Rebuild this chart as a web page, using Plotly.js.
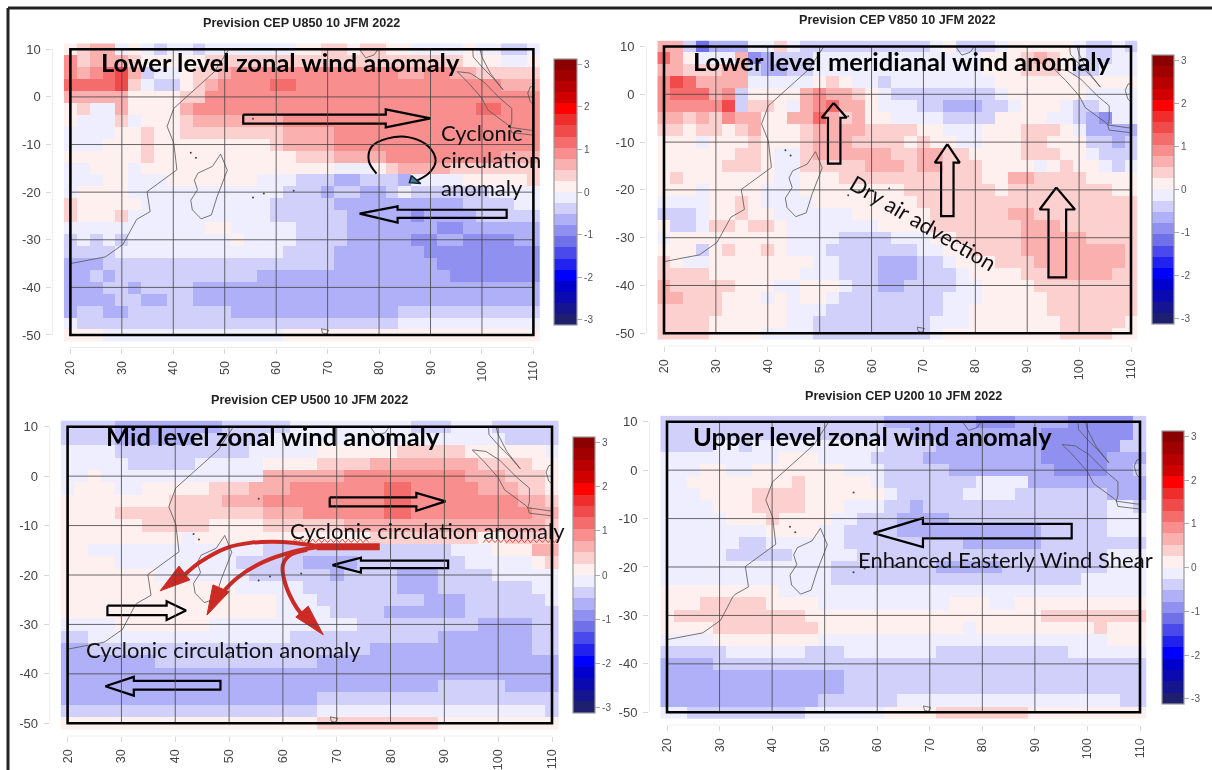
<!DOCTYPE html>
<html><head><meta charset="utf-8">
<script src="https://cdn.plot.ly/plotly-3.0.1.min.js"></script>
<style>html,body{margin:0;padding:0;background:#fff;overflow:hidden}#plot{width:1212px;height:770px;filter:blur(0.45px)}</style>
</head><body><div id="plot"></div>
<script>
// Anomaly level per letter: digits are positive bands, letters negative bands (each band 0.26 m/s wide)
const levelCodes = {'0':-.13,'1':.13,'2':.39,'3':.65,'4':.91,'5':1.17,'6':1.43,a:-.13,b:-.39,c:-.65,d:-.91,e:-1.17,f:-1.43};
const bandColors = ['#1f1f70','#151590','#0a0ab0','#0000cc','#0000ff','#2222ee','#4a4aec','#7070e8','#9090f0','#b0b0f8','#d0d0fb','#eeeeff',
  '#fff0f0','#fdd0d0','#fbb0b0','#f88e8e','#f56c6c','#f04a4a','#ef2d2d','#ff0000','#d00000','#b80000','#a00000','#8b0000'];
const lonTicks = [20,30,40,50,60,70,80,90,100,110];
const latTicks = [10,0,-10,-20,-30,-40,-50];
const barTicks = [-3,-2,-1,0,1,2,3];
// rows: lat 10 to -50 (step 2.5), columns: lon 20 to 110 (step 2.5)
const u850 = [
"1233a1abaa baaaaaaa11 2212211aaa a1aabba",
"4233321111 1222222222 2222222222 2111aa1",
"434563baa1 2234444444 4444443344 3322222",
"5555620bb1 2344445544 4444444444 4444333",
"3333311112 2444444444 4444444444 4444444",
"12aa311113 4444444444 4444444444 4455444",
"1aaa2a1112 3333333444 4444444444 4444444",
"aaaa112112 2222222333 3444444444 4444444",
"aaa1112111 1111112333 3444444444 4444444",
"1111112111 1111111122 2333344444 4444333",
"aa111a1111 1111111111 1aaa123333 2222222",
"aaa11aaa11 11111aaabb bccbbbcaaa a111112",
"a1111aaaaa aaaaaaabbb cbbccb0bbb bbbaaaa",
"211111aaaa aaaaaabbbb bccccccccc cbbbbaa",
"21112aaaaa aaaaaabbbb bbcccccdcc ccbbbbb",
"aaaaaaaaaa a11aaaaabb bbcccccccd dcccccc",
"bababaaaaa aaa1aaaabb bbcccccddc cddddcc",
"bbbbaaaaaa aaaaaaabbb bcccccccdd ddddddd",
"cccbbbbbbb bbbbbbbbbb bccccccccd ddddddd",
"ccbcbbbbbb bbbbbccccc cccccccccc ddddddd",
"cccbbcbbbb cccccccccc cccccccccc ccccccc",
"ccccbbccbb cccccccccc cccccccccc ccccccc",
"cbbccbbbbb bbbccccccc ccccccbbbb bbbbbbb",
"abbbbbbbbb bbbbbbbbbb bbbbbbaaaa aaaaaaa",
"111aaaaaaa aaaaaaa111 1111111111 1111111"];
const v850 = [
"33becccaa2 abbbbbbbbb ba1bbba111 11abbab",
"531aaa3dcb bbaaaaaaaa aaaaa11123 21abbaa",
"3322233bcc bbaaaaaaaa aaaaa11122 21bbaaa",
"4653333aaa aa121aabaa aaaaaa1111 1111111",
"455534b111 1343321abb bbbbbba111 111aaaa",
"444446b221 a345331aaa bbcccbba11 1abbaaa",
"3323243311 33532311aa aabbbb1111 aabcdaa",
"2212212311 1233332222 11aaa11122 21acccc",
"111a111211 1233322221 211aa11122 111bbcb",
"1111112 21a a233333322 3322111122 211abbb",
"111112221a a222223332 332221111a 1211aba",
"121111111a a111222222 2222211332 2221111",
"111a1111aa a111111112 2222221222 2222211",
"aaaa1121aa aa11111111 2222222222 2222222",
"bbba11211a aaaaa11111 1222222332 2222222",
"1bba221221 aaaaaaa111 1222222233 3222222",
"a111111111 aaaabbbbaa a112222233 3332222",
"111b121121 aaabbbbbbb aa11222233 3333332",
"21aa111111 11aabbbccc bba1112223 3333332",
"2222111111 1aaabbbccc bbba111122 3333322",
"322222111a a111abbccb bbbaa11112 2222222",
"33222111a1 a11abbbbbb bbaaa11111 2222222",
"2222211111 aaabbbbbbb bbaa111111 2222222",
"2222111111 aabbbbbbbb baaa111111 1222221",
"22221111aa aabbbbbbbb ba11111111 1222211"];
const u500 = [
"bbbbcccccc ccbbbbbaaa aaaaaabbba aabbbbb",
"bbbbcccccc bbbbbaaaaa aaaaaaaaaa aaabbbb",
"aaaabbbbbb bbbbaaaaa1 1111122222 111111a",
"aaaaabbbbb aaaaa11112 2223333333 3222211",
"aa1aaaaaaa aaaaa33333 3444444444 3332221",
"a111aa1111 1222333444 4444554444 4333221",
"1111111122 2233344444 4444554444 4444332",
"1111222222 2222233344 4444554444 4444433",
"1111112222 2111122222 2333333333 3333332",
"111111111a 1111111111 1112222222 2112222",
"11aaaaaaaa aaaaabbbbb bbbbbbbbba aa11133",
"1111aaaaaa aaabbbbbcc ccbbbbbbbb aaaaa12",
"1111111aaa aaaabbbbbb cbbbbcccbb bbaaaaa",
"1111111111 111aaaaabb bbbbbcccbb bbbbbaa",
"1111111111 111111aaab bbbbbbbccc bbbbbba",
"1111111111 111111aaaa bbbbcccccc bbbbbbb",
"aaaa111111 1aaaaaaaaa aabbbbbbbb bccccbb",
"bbaaaaaaaa aaaaaaabbb bbbbbbbbcc cccccbb",
"ccbbbbbbbb bbbbbbbbbb bbbccccccc cccccbb",
"cccccccbbb bbbbbbbbbc cccccccccc ccccccc",
"cccccccccc cccccccccc cccccccccc ccccccc",
"cccccccccc cccccccccc ccccccccbb bbbcccc",
"cccccccccc cccccccccb bbbbbbbbbb bbbbbbb",
"bbbbbbbbbb bbbbbbbbba aaaaaaaaaa aaaaaab",
"1111111111 1111111112 2222222211 1111111"];
const u200 = [
"bbbbbbbbbb bbbbbbbccc ccccdddccc cdddddb",
"bbbbbbbbbb bbbbbbbbbc cccccccccd ddddddb",
"bbbbaabaaa aaaaaaabbb bccccccccd dddddbb",
"aaaaaaaaa1 11aaaabbbb cccccccccd ddddccc",
"aaa11aa111 1111aaabbb bbcccccccc ddddccb",
"aa11111111 211111abbb bbbbaaaacc ccccccc",
"aaa1111222 2111111abb bbb0000bbb bbbbccc",
"aaaa111222 2111aaabbc bbbbbbbbbb bbbbaab",
"aaaaa11121 111aabbbcc ccbbbbbbbb bbbbaaa",
"aaaaaaaa11 11aabbbbcc cccccccccb bbbbaaa",
"aaaaaabbaa aaaabbbbbb bbbccccccb bbbbbbb",
"aaaaabbbbb aaaaabbbbb bbbbbbbbbb bbbbaaa",
"aaaaaaaaaa aaabbbbbbb bcccccbbbb bbbbaaa",
"aaaaaaaaaa aaabbbbbbb bbbbbbbbbb bbaaaaa",
"111111111a aaaaaaaaaa aaaaaaaaaa aaaaaaa",
"1112222211 11aaaaaaaa aa111aa111 1111111",
"1222222222 2111111111 1111111112 2222222",
"1111222222 2211111111 111a111111 1112111",
"aaaa111111 11aaaaaaaa aaaaaaaaaa aaaa111",
"bbbbbaaaaa abbbaaaaaa abbbbbbbbb baaaaaa",
"ccccbbbbbb bbbbbbbbbb bbbbbbbbbb bbbbbbb",
"cccccccccc ccccbbbbbb bbbbbbbbbb bbbbbbb",
"cccccccccc ccccbbbbbb bbbbbbbbbb bbbbbbb",
"cccccccccc ccbbbbbbaa aaaaaaaaaa aaaaabb",
"aabbbbbbbb baaaaaa111 1222222211 1111111"];

// coastlines, as [lon, lat] lists
const africaLon = [20,26.8,30.2,32.5,32.9,35.5,34.9,40.7,40.1,38.8,40.1,48,50.8];
const africaLat = [-35,-33.6,-31,-26.2,-25.7,-24.1,-19.9,-15.3,-9.7,-6.2,-2.4,5.3,10];
const madaLon = [49.2,50.5,48.5,47.4,45.4,43.7,43.4,44.7,44.1,44.8,47.6,49.2];
const madaLat = [-12,-15.4,-21,-24.8,-25.6,-23.7,-21.7,-19.5,-17.5,-16,-14.6,-12];
const sumatraLon = [95.2,97.7,100.3,103.5,105.8,105.8,105.5,105.1,101.2,100,97.4,95.2];
const sumatraLat = [5.3,5,3.2,-.3,-2.4,-5.2,-6.4,-5.9,-2.8,-.3,2.9,5.3];
const javaLon = [110,109.4,105.5,105.8,109.7,110];
const javaLat = [-7,-7,-6.4,-7.5,-8,-8];
const malayaLon = [98.2,98.3,100,102.2,104.1,101.6,100,99.7,99.6];
const malayaLat = [10,8.4,6.3,3.9,1.5,5,8.4,9.5,10];
const borneoLon = [110,109.4,108.9,109.4,110];
const borneoLat = [2.3,2.1,.8,-1,-1.6];
const indiaLon = [76.2,77.4,79,79.8];
const indiaLat = [10,8.2,8.8,10];
const kerguelenLon = [68.8,70.2,69.7,69,68.8];
const kerguelenLat = [-48.7,-49,-49.8,-49.6,-48.7];
const isleLon = [43.4,44.4,55.5,57.6,63.4,55.5];
const isleLat = [-11.7,-12.8,-21.1,-20.3,-19.7,-4.6];

// overlay drawings, as [lon list, lat list]
const arrowsA = [
 [[53.6,81.3,81.3,90,81.3,81.3,53.6,53.6],[-3.7,-3.7,-2.6,-4.5,-6.4,-5.6,-5.6,-3.7]],
 [[76.2,83.6,83.6,104.8,104.8,83.6,83.6,76.2],[-24.5,-23,-23.7,-23.7,-25.4,-25.4,-26.4,-24.5]]];
const swirlLon = [79.5,78,78.6,81.7,85.9,89.6,91,89.8,86.9];
const swirlLat = [-16.1,-13.4,-10.4,-8.7,-8.5,-10.4,-13.4,-15.9,-17.8];
const swirlHeadLon = [86.3,88.1,85.9,86.3];
const swirlHeadLat = [-16.5,-18.2,-18,-16.5];
const arrowsB = [
 [[52.7,55.2,54,54,51.6,51.6,50.4,52.7],[-1.8,-4.9,-4.9,-14.5,-14.5,-4.9,-4.9,-1.8]],
 [[74.6,77,75.8,75.8,73.4,73.4,72.2,74.6],[-10.4,-14.3,-14.3,-25.5,-25.5,-14.3,-14.3,-10.4]],
 [[95.6,99.2,97.5,97.5,94.1,94.1,92.4,95.6],[-19.5,-24.1,-24.1,-38.3,-38.3,-24.1,-24.1,-19.5]]];
const arrowsC = [
 [[68.7,84.8,84.8,90.2,84.8,84.8,68.7,68.7],[-4.3,-4.3,-3.4,-5.1,-7,-6.1,-6.1,-4.3]],
 [[69.2,74.5,74.5,90.7,90.7,74.5,74.5,69.2],[-18,-16.5,-17.1,-17.1,-18.6,-18.6,-19.5,-18]],
 [[27.4,38.4,38.4,42,38.4,38.4,27.4,27.4],[-26.2,-26.2,-25.3,-27.2,-29.1,-28.1,-28.1,-26.2]],
 [[27,32.3,32.3,48.4,48.4,32.3,32.3,27],[-42.5,-40.6,-41.4,-41.4,-43.2,-43.2,-44.4,-42.5]]];
const arrowsD = [
 [[59.3,68.7,68.7,97,97,68.7,68.7,59.3],[-13,-9.9,-11.1,-11.1,-14.1,-14.1,-15.9,-13]]];
const redStemLon = [78,72,66.3], redStemLat = [-14.3,-14.3,-14.3];
const redCurves = [
 [[66.3,60,53.9,49.6,44.6,41.7],[-14.1,-13.3,-13.5,-14.5,-17.4,-20]],
 [[66.9,61.9,56.3,51.5,48.4],[-14.3,-15.3,-17.4,-20.6,-24]],
 [[64.5,61.3,60,60.4,62.6,64],[-14.9,-16,-18,-21.6,-26.7,-28.5]]];
const redHeads = [
 [[37.2,42.7,40.7,37.2],[-23.2,-21,-18.2,-23.2]],
 [[45.9,50,47,45.9],[-28.1,-23.4,-22,-28.1]],
 [[67.5,64.7,62.4,67.5],[-32.1,-26.3,-28.5,-32.1]]];

const W=1212,H=770;
const panels = [
 {z:u850,title:'Prevision CEP U850 10 JFM 2022',x20:70.4,x110:533.4,y10:49.3,y50:335,tx:301,ty:23,bar:[554,59,23,266],arrows:arrowsA},
 {z:v850,title:'Prevision CEP V850 10 JFM 2022',x20:664,x110:1131,y10:46.5,y50:333.3,tx:897,ty:20,bar:[1152,55,22,269],arrows:arrowsB},
 {z:u500,title:'Prevision CEP U500 10 JFM 2022',x20:67.6,x110:552,y10:426.7,y50:723.3,tx:309,ty:400,bar:[573,437,22,276],arrows:arrowsC},
 {z:u200,title:'Prevision CEP U200 10 JFM 2022',x20:667,x110:1140,y10:421.7,y50:712.3,tx:903,ty:396,bar:[1162,431,22,273],arrows:arrowsD}];

const scale = bandColors.flatMap((c,i)=>[[i/24,c],[(i+1)/24,c]]);
const decode = rows => rows.map(r=>r.replace(/ /g,'').split('').map(ch=>levelCodes[ch]));
const traces=[], shapes=[], annotations=[], layout={};
const ann=(text,x,y,o={})=>annotations.push(Object.assign({text,x:x/W,y:1-y/H,xref:'paper',yref:'paper',showarrow:false,
   font:{family:'Lato, sans-serif',size:22,color:'#111'},xanchor:'center',yanchor:'middle'},o));

panels.forEach((p,i)=>{
  const n=i?String(i+1):'', xa='x'+n, ya='y'+n;
  const sx=(p.x110-p.x20)/90, sy=(p.y50-p.y10)/60;
  const l=p.x20-18, r=p.x110+sx*1.25, t=p.y10-sy*1.25, b=p.y50+13;
  layout['xaxis'+n]={domain:[l/W,r/W],anchor:ya,range:[20+(l-p.x20)/sx,20+(r-p.x20)/sx],
    tickmode:'array',tickvals:lonTicks,ticktext:lonTicks.map(String),tickangle:-90,ticks:'outside',ticklen:5,tickcolor:'#d8d8d8',
    showgrid:false,zeroline:false,showline:false,tickfont:{family:'Liberation Sans',size:12.5,color:'#444'},ticklabelstandoff:2};
  layout['yaxis'+n]={domain:[1-b/H,1-t/H],anchor:xa,range:[10-(b-p.y10)/sy,10-(t-p.y10)/sy],
    tickmode:'array',tickvals:latTicks,ticktext:latTicks.map(String),ticks:'outside',ticklen:5,tickcolor:'#d8d8d8',
    showgrid:false,zeroline:false,showline:false,tickfont:{family:'Liberation Sans',size:13,color:'#444'},ticklabelstandoff:3};
  const [bx,by,bw,bh]=p.bar;
  traces.push({type:'heatmap',z:decode(p.z),x0:20,dx:2.5,y0:10,dy:-2.5,xaxis:xa,yaxis:ya,hoverinfo:'skip',
    colorscale:scale,zmin:-3.12,zmax:3.12,showscale:true,zsmooth:false,
    colorbar:{x:bx/W,xanchor:'left',xpad:0,y:1-(by+bh/2)/H,yanchor:'middle',ypad:0,thickness:bw,lenmode:'pixels',len:bh,
      tickmode:'array',tickvals:barTicks,ticktext:barTicks.map(String),ticks:'outside',ticklen:5,tickcolor:'#aaa',
      tickfont:{family:'Liberation Sans',size:10,color:'#555'},outlinecolor:'#999',outlinewidth:1.2}});
  const coast=(x,y,w=.8)=>traces.push({type:'scatter',mode:'lines',x,y,xaxis:xa,yaxis:ya,hoverinfo:'skip',showlegend:false,
     line:{color:'#555',width:w}});
  coast(africaLon,africaLat);coast(madaLon,madaLat);coast(sumatraLon,sumatraLat);coast(javaLon,javaLat);
  coast(malayaLon,malayaLat);coast(borneoLon,borneoLat);coast(indiaLon,indiaLat);coast(kerguelenLon,kerguelenLat);
  traces.push({type:'scatter',mode:'markers',x:isleLon,y:isleLat,xaxis:xa,yaxis:ya,hoverinfo:'skip',showlegend:false,
     marker:{size:2,color:'#444'}});
  lonTicks.slice(1,-1).forEach(v=>shapes.push({type:'line',xref:xa,yref:ya,x0:v,x1:v,y0:-50,y1:10,line:{color:'#444',width:1},opacity:.8}));
  latTicks.slice(1,-1).forEach(v=>shapes.push({type:'line',xref:xa,yref:ya,x0:20,x1:110,y0:v,y1:v,line:{color:'#444',width:1},opacity:.8}));
  shapes.push({type:'rect',xref:xa,yref:ya,x0:20,x1:110,y0:-50,y1:10,line:{color:'#000',width:2.6}});
  const yb=layout['yaxis'+n].range[0], xb=layout['xaxis'+n].range[0];
  shapes.push({type:'line',xref:xa,yref:ya,x0:20,x1:110,y0:yb,y1:yb,line:{color:'#d8d8d8',width:1}});
  shapes.push({type:'line',xref:xa,yref:ya,x0:xb,x1:xb,y0:-50,y1:10,line:{color:'#d8d8d8',width:1}});
  p.arrows.forEach(a=>traces.push({type:'scatter',mode:'lines',x:a[0],y:a[1],xaxis:xa,yaxis:ya,hoverinfo:'skip',showlegend:false,
     line:{color:'#000',width:2.2}}));
  ann(p.title,p.tx,p.ty,{font:{family:'Liberation Sans',size:12.6,color:'#222',weight:700}});
});
// swirl on panel A
traces.push({type:'scatter',mode:'lines',x:swirlLon,y:swirlLat,xaxis:'x',yaxis:'y',hoverinfo:'skip',showlegend:false,line:{color:'#000',width:2,shape:'spline'}});
traces.push({type:'scatter',mode:'lines',x:swirlHeadLon,y:swirlHeadLat,xaxis:'x',yaxis:'y',hoverinfo:'skip',showlegend:false,fill:'toself',fillcolor:'#3e7f8f',line:{color:'#123',width:1.5}});
// red arrows on panel C
const red='#cc2a24';
traces.push({type:'scatter',mode:'lines',x:redStemLon,y:redStemLat,xaxis:'x3',yaxis:'y3',hoverinfo:'skip',showlegend:false,line:{color:red,width:7}});
redCurves.forEach(c=>traces.push({type:'scatter',mode:'lines',x:c[0],y:c[1],xaxis:'x3',yaxis:'y3',hoverinfo:'skip',showlegend:false,line:{color:red,width:4,shape:'spline'}}));
redHeads.forEach(c=>traces.push({type:'scatter',mode:'lines',x:c[0],y:c[1],xaxis:'x3',yaxis:'y3',hoverinfo:'skip',showlegend:false,fill:'toself',fillcolor:red,line:{color:red,width:1}}));
// spell-check squiggles
[[61.7,76.4],[97.2,112]].forEach(([a,b])=>{const xs=[],ys=[];for(let v=a,k=0;v<=b;v+=.55,k++){xs.push(v);ys.push(-13.1+(k%2?.35:-.35));}
  traces.push({type:'scatter',mode:'lines',x:xs,y:ys,xaxis:'x3',yaxis:'y3',hoverinfo:'skip',showlegend:false,cliponaxis:false,line:{color:'#e0453c',width:1}});});

const bold={family:'Lato, sans-serif',size:25.5,color:'#000',weight:700};
ann('Lower level zonal wind anomaly',280,62,{font:bold});
ann('Lower level meridianal wind anomaly',902,61,{font:bold});
ann('Mid level zonal wind anomaly',273,436,{font:bold});
ann('Upper level zonal wind anomaly',872,436,{font:bold});
ann('Cyclonic',439,132,{xanchor:'left'});
ann('circulation',439,159,{xanchor:'left'});
ann('anomaly',439,188,{xanchor:'left'});
ann('Dry air advection',923,222,{textangle:30.5});
ann('Cyclonic circulation anomaly',427,530);
ann('Cyclonic circulation anomaly',223,649);
ann('Enhanced Easterly Wind Shear',1005,559);
// page frame
shapes.push({type:'line',xref:'paper',yref:'paper',x0:8/W,x1:1,y0:1-8/H,y1:1-8/H,line:{color:'#222',width:3}});
shapes.push({type:'line',xref:'paper',yref:'paper',x0:8/W,x1:8/W,y0:0,y1:1-8/H,line:{color:'#222',width:3}});

Object.assign(layout,{width:W,height:H,margin:{l:0,r:0,t:0,b:0},paper_bgcolor:'#fff',plot_bgcolor:'#fff',showlegend:false,shapes,annotations});
Plotly.newPlot('plot',traces,layout,{displayModeBar:false,staticPlot:true});
</script></body></html>
